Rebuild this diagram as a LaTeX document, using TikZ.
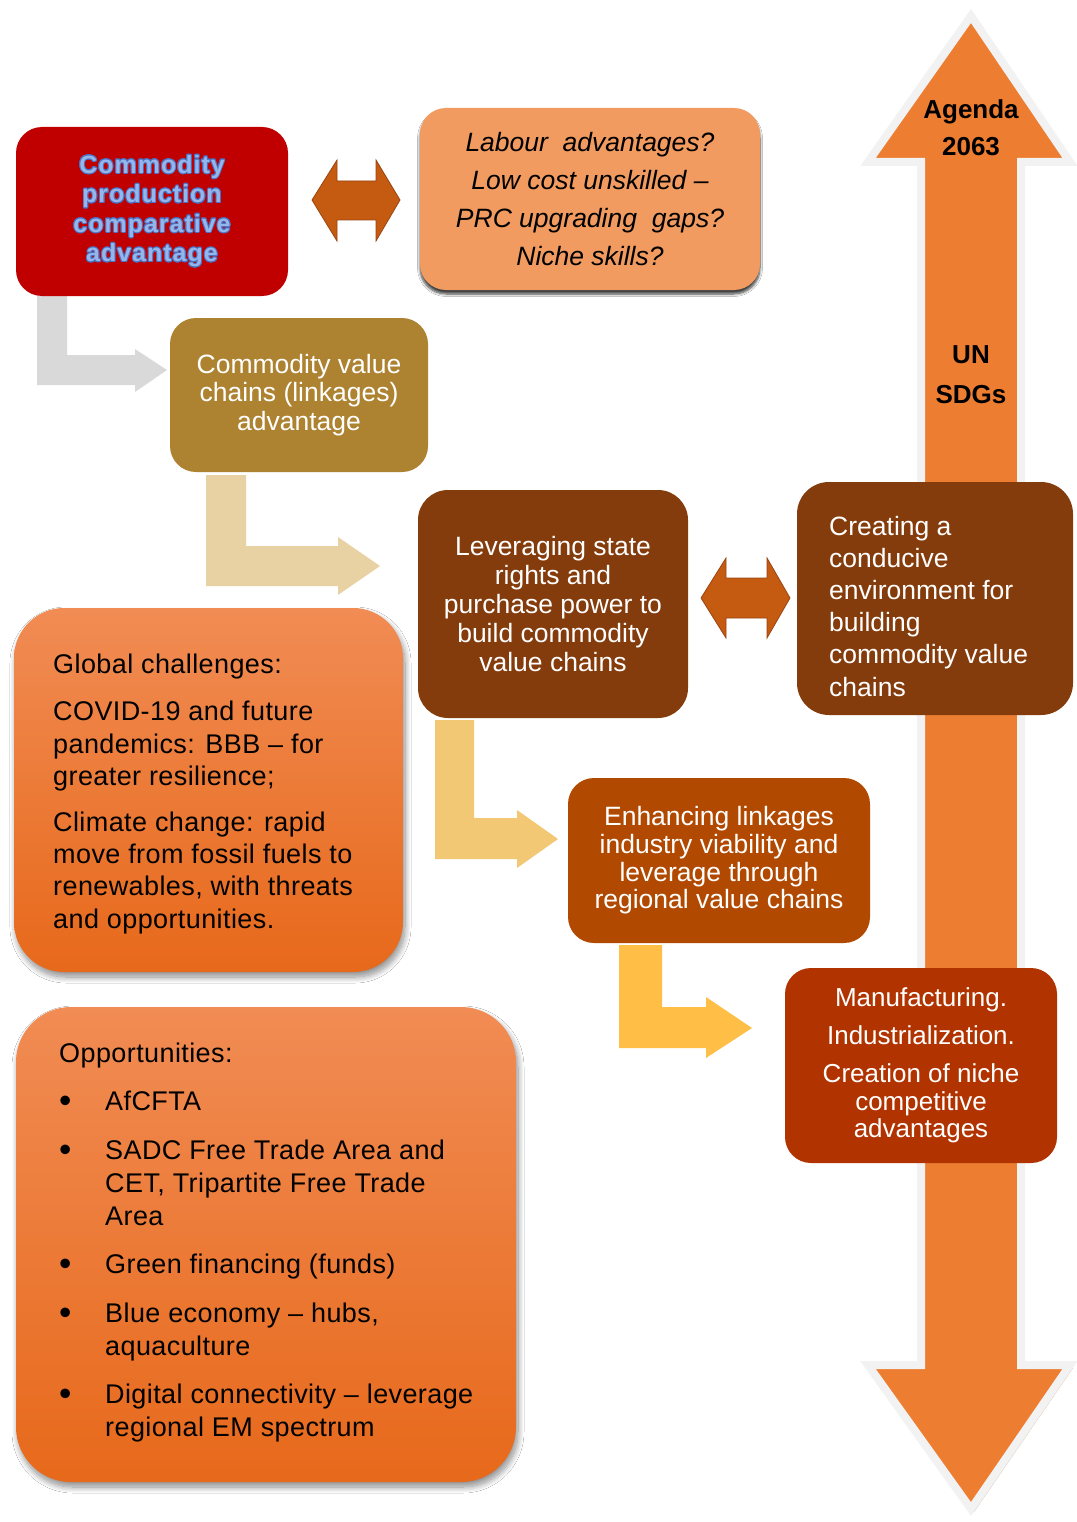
\documentclass[tikz,border=0pt]{standalone}
\usepackage{fontspec}
\usepackage{graphicx}
\setmainfont{Liberation Sans}
\newfontfamily\titlefont{Liberation Sans}[LetterSpace=4.0]
\newfontfamily\listfont{Liberation Sans}[LetterSpace=1.5]
\usepackage{contour}
\contourlength{0.9pt}
\usetikzlibrary{shadows.blur}

\definecolor{redbox}{HTML}{C00000}
\definecolor{peach}{HTML}{F19B60}
\definecolor{gold}{HTML}{AD8230}
\definecolor{brownbox}{HTML}{843C0C}
\definecolor{rustbox}{HTML}{B14900}
\definecolor{rustdark}{HTML}{B13400}
\definecolor{dblarrow}{HTML}{C55A11}
\definecolor{dbledge}{HTML}{9A4512}
\definecolor{bigarrow}{HTML}{ED7D31}
\definecolor{bigrim}{HTML}{F2F2F2}
\definecolor{bigshadow}{HTML}{CFAE94}
\definecolor{graybend}{HTML}{D9D9D9}
\definecolor{beigebend}{HTML}{E8D2A4}
\definecolor{sandbend}{HTML}{F3C875}
\definecolor{amberbend}{HTML}{FFBF47}
\definecolor{gradtop}{HTML}{F18C54}
\definecolor{gradbot}{HTML}{E7691B}
\definecolor{titleblue}{HTML}{94B6EA}
\definecolor{titleedge}{HTML}{4B6FC2}

\newcommand\bul{\makebox[46pt][l]{\raisebox{-2.2pt}{\scalebox{1.3}{•}}}}
\newcommand\indt{\hspace*{46pt}}

\tikzset{
  box/.style={rounded corners=26pt, inner sep=0pt, align=center},
  wtext/.style={text=white, font=\fontsize{26.5}{28.5}\selectfont},
  softshadow/.style={blur shadow={shadow xshift=2pt, shadow yshift=-5pt,
      shadow blur radius=6pt, shadow blur steps=12, shadow opacity=45}},
  gradbox/.style={box, top color=gradtop, bottom color=gradbot, softshadow},
  bendarrow/.style={draw=none},
  dbl/.style={fill=dblarrow, draw=dbledge, line width=0.8pt, line join=miter},
  bigbody/.style={fill=bigarrow, draw=bigrim, line width=8pt, line join=miter},
  % placed by the baseline of the last line
  bodytext/.style={anchor=base west, inner sep=0pt, align=left},
}

\begin{document}
\begin{tikzpicture}[x=1pt, y=-1pt]
\useasboundingbox (0,0) rectangle (1076,1522);
\fill[white] (0,0) rectangle (1076,1522);

% long two-headed arrow: Agenda 2063 / UN SDGs
\fill[bigshadow, xshift=3pt, yshift=-3pt]
  (971,16) -- (1070,162) -- (1021,162) -- (1021,1365) -- (1070,1365) -- (971,1509)
  -- (868,1365) -- (921,1365) -- (921,162) -- (868,162) -- cycle;
\path[bigbody]
  (971,16) -- (1070,162) -- (1021,162) -- (1021,1365) -- (1070,1365) -- (971,1509)
  -- (868,1365) -- (921,1365) -- (921,162) -- (868,162) -- cycle;
\node[font=\bfseries\fontsize{26}{37}\selectfont, align=center, inner sep=0pt] (agenda) at (971,128) {Agenda\\2063};
\node[font=\bfseries\fontsize{26}{40}\selectfont, align=center, inner sep=0pt] (sdgs) at (971,375) {UN\\SDGs};

% bent flow arrows
\fill[graybend, bendarrow] (37,296) -- (67,296) -- (67,355) -- (135,355) -- (135,349)
  -- (167,370) -- (135,392) -- (135,385) -- (37,385) -- cycle;
\fill[beigebend, bendarrow] (206,475) -- (246,475) -- (246,546) -- (338,546) -- (338,537)
  -- (380,566) -- (338,595) -- (338,586) -- (206,586) -- cycle;
\fill[sandbend, bendarrow] (435,720) -- (474,720) -- (474,818) -- (517,818) -- (517,810)
  -- (558,839) -- (517,868) -- (517,859) -- (435,859) -- cycle;
\fill[amberbend, bendarrow] (619,945) -- (662,945) -- (662,1007) -- (706,1007) -- (706,997)
  -- (752,1028) -- (706,1058) -- (706,1048) -- (619,1048) -- cycle;

% boxes
\node[box, fill=redbox, minimum width=272pt, minimum height=169pt,
      font=\titlefont\bfseries\fontsize{25}{29.5}\selectfont, text=titleblue] (prod) at (152,211.5)
  {\contour{titleedge}{Commodity}\\\contour{titleedge}{production}\\\contour{titleedge}{comparative}\\\contour{titleedge}{advantage}};

\node[box, fill=peach, minimum width=340pt, minimum height=182pt,
      blur shadow={shadow xshift=0pt, shadow yshift=-4pt, shadow blur radius=2.5pt,
      shadow blur steps=6, shadow opacity=75},
      font=\itshape\fontsize{26.5}{38}\selectfont] (labour) at (590,199)
  {Labour~ advantages?\\Low cost unskilled –\\PRC upgrading~ gaps?\\Niche skills?};

\node[box, fill=gold, minimum width=258pt, minimum height=154pt, wtext] (cvc) at (299,395)
  {Commodity value\\chains (linkages)\\advantage};

\node[box, fill=brownbox, rounded corners=30pt, minimum width=270pt, minimum height=228pt,
      wtext, font=\fontsize{26.5}{29}\selectfont] (lever) at (553,604)
  {Leveraging state\\rights and\\purchase power to\\build commodity\\value chains};

\node[box, fill=brownbox, rounded corners=32pt, minimum width=276pt, minimum height=233pt] (create) at (935,598.5) {};
\node[bodytext, text=white, font=\fontsize{26.5}{32.2}\selectfont] (createtext) at (829,696)
  {Creating a\\conducive\\environment for\\building\\commodity value\\chains};

\node[box, fill=rustbox, minimum width=302pt, minimum height=165pt, wtext,
      font=\fontsize{26.5}{27.7}\selectfont] (enhance) at (719,860.5)
  {Enhancing linkages\\industry viability and\\leverage through\\regional value chains};

\node[box, fill=rustdark, minimum width=272pt, minimum height=195pt, wtext,
      font=\fontsize{26}{27.6}\selectfont] (manuf) at (921,1065.5)
  {Manufacturing.\\[10.5pt]Industrialization.\\[10.5pt]Creation of niche\\competitive\\advantages};

\node[gradbox, rounded corners=50pt, minimum width=389pt, minimum height=364pt] (global) at (208.5,790) {};
\node[bodytext, font=\listfont\fontsize{27}{32.2}\selectfont] (globaltext) at (53,928)
  {Global challenges:\\[15pt]
   COVID-19 and future\\pandemics: BBB – for\\greater resilience;\\[14pt]
   Climate change: rapid\\move from fossil fuels to\\renewables, with threats\\and opportunities.};

\node[gradbox, rounded corners=55pt, minimum width=500pt, minimum height=475pt] (opps) at (266,1244.5) {};
\node[bodytext, font=\listfont\fontsize{27}{33}\selectfont] (oppstext) at (59,1436.5)
  {Opportunities:\\[15.5pt]
   \bul AfCFTA\\[15.5pt]
   \bul SADC Free Trade Area and\\\indt CET, Tripartite Free Trade\\\indt Area\\[15.5pt]
   \bul Green financing (funds)\\[15.5pt]
   \bul Blue economy – hubs,\\\indt aquaculture\\[15.5pt]
   \bul Digital connectivity – leverage\\\indt regional EM spectrum};

% two-way links
\path[dbl] (312,200) -- (337,160) -- (337,181) -- (376,181) -- (376,160) -- (400,200)
  -- (376,241) -- (376,220) -- (337,220) -- (337,241) -- cycle;
\path[dbl] (701,598) -- (726,558) -- (726,578) -- (767,578) -- (767,558) -- (790,598)
  -- (767,638) -- (767,618) -- (726,618) -- (726,638) -- cycle;
\end{tikzpicture}
\end{document}
